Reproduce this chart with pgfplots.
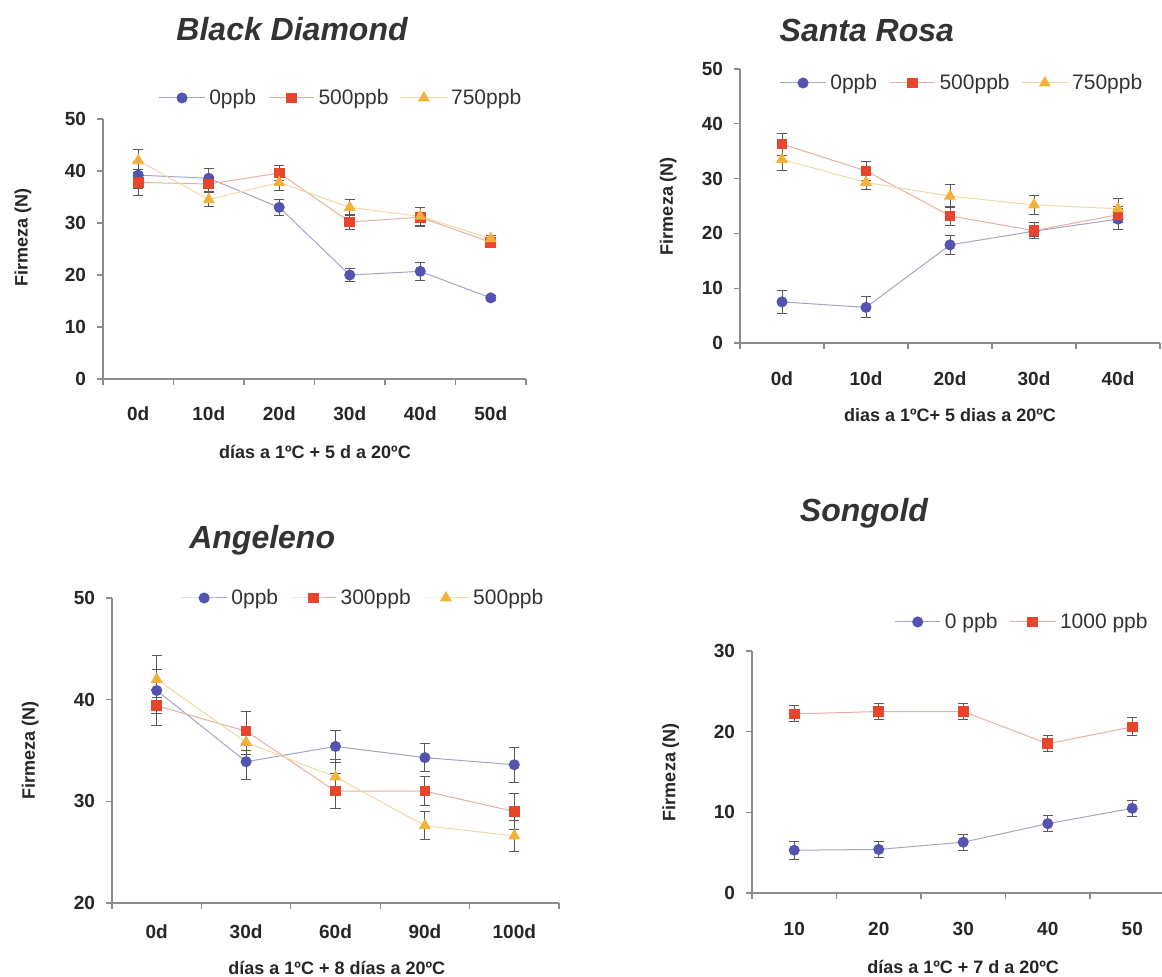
\documentclass[border=0pt]{standalone}
\usepackage{fontspec}
\setmainfont{Liberation Sans}
\usepackage{pgfplots}
\pgfplotsset{compat=1.18}

\definecolor{c0}{HTML}{5454B0}
\definecolor{c1}{HTML}{E8452C}
\definecolor{c2}{HTML}{F2B23A}
\definecolor{l0}{HTML}{A4A4C8}
\definecolor{l1}{HTML}{E6B0A2}
\definecolor{l2}{HTML}{EFD8A4}
\definecolor{axgray}{HTML}{8C8C8C}
\definecolor{txt}{HTML}{262626}

\pgfplotsset{
  panel/.style={
    scale only axis,
    axis lines=left,
    axis line style={draw=axgray, line width=0.6pt, -},
    tick align=outside,
    major tick length=3pt,
    tick style={draw=axgray, line width=0.6pt},
    xmin=0,
    xticklabels={},
    extra x tick style={tick style={draw=none}},
    xticklabel style={anchor=center, font=\bfseries\fontsize{9.5}{11}\selectfont, text=txt},
    yticklabel style={font=\bfseries\fontsize{9.5}{11}\selectfont, text=txt, xshift=-2pt,
      /pgf/number format/assume math mode=true},
    % the default title style shifts by 6pt; take that back
    title style={anchor=center, yshift=-6pt, font=\bfseries\itshape\fontsize{16}{19}\selectfont, text=black!80},
    ylabel={Firmeza (N)},
    ylabel style={anchor=center, font=\bfseries\fontsize{9}{11}\selectfont, text=txt},
    xlabel style={anchor=center, font=\bfseries\fontsize{9}{11}\selectfont, text=txt},
    legend columns=-1,
    legend style={draw=none, fill=none, anchor=center, font=\fontsize{10.5}{12}\selectfont,
      text=black!80, /tikz/every even column/.append style={column sep=4pt}},
    legend image code/.code={\draw[mark repeat=2,mark phase=2,#1]
      plot coordinates {(0cm,0cm) (0.4cm,0cm) (0.8cm,0cm)};},
    clip=false,
  },
  s0/.style={draw=l0, line width=0.5pt, mark=*, mark size=2.5pt,
    mark options={draw=c0, fill=c0},
    error bars/.cd, y dir=both, y explicit,
    error bar style={draw=black!65, line width=0.5pt},
    error mark options={rotate=90, draw=black!65, mark size=2.6pt, line width=0.5pt}},
  s1/.style={draw=l1, line width=0.5pt, mark=square*, mark size=2.4pt,
    mark options={draw=c1, fill=c1},
    error bars/.cd, y dir=both, y explicit,
    error bar style={draw=black!65, line width=0.5pt},
    error mark options={rotate=90, draw=black!65, mark size=2.6pt, line width=0.5pt}},
  s2/.style={draw=l2, line width=0.5pt, mark=triangle*, mark size=3pt,
    mark options={draw=c2, fill=c2},
    error bars/.cd, y dir=both, y explicit,
    error bar style={draw=black!65, line width=0.5pt},
    error mark options={rotate=90, draw=black!65, mark size=2.6pt, line width=0.5pt}},
}

\begin{document}
\begin{tikzpicture}
\useasboundingbox (0,0) rectangle (581pt,-488.5pt);

% Black Diamond
\begin{axis}[panel,
  at={(51.5pt,-189.5pt)}, anchor=south west,
  width=211.5pt, height=130pt,
  xmax=6, ymin=0, ymax=50,
  xtick={0,1,...,6}, ytick={0,10,...,50},
  extra x ticks={0.5,1.5,...,5.5},
  extra x tick labels={0d,10d,20d,30d,40d,50d},
  xticklabel style={yshift=-14.5pt},
  title={Black Diamond},
  title style={at={(axis description cs:0.447,1.346)}},
  xlabel={días a 1ºC + 5 d a 20ºC},
  xlabel style={at={(axis description cs:0.501,-0.281)}},
  ylabel style={at={(axis description cs:-0.189,0.546)}},
  legend style={at={(axis description cs:0.565,1.081)}},
]
\addplot[s0] coordinates {(0.5,39.2) +- (0,2.6) (1.5,38.6) +- (0,1.8) (2.5,33.0) +- (0,1.6)
  (3.5,20.0) +- (0,1.3) (4.5,20.7) +- (0,1.7) (5.5,15.6) +- (0,0.5)};
\addplot[s1] coordinates {(0.5,37.8) +- (0,2.5) (1.5,37.5) +- (0,1.5) (2.5,39.6) +- (0,1.4)
  (3.5,30.2) +- (0,1.5) (4.5,31.1) +- (0,1.8) (5.5,26.3) +- (0,0.5)};
\addplot[s2] coordinates {(0.5,42.0) +- (0,2.2) (1.5,34.5) +- (0,1.4) (2.5,37.8) +- (0,1.5)
  (3.5,33.0) +- (0,1.5) (4.5,31.3) +- (0,1.7) (5.5,27.0) +- (0,0.5)};
\legend{0ppb,500ppb,750ppb}
\end{axis}

% Santa Rosa
\begin{axis}[panel,
  at={(370pt,-171.5pt)}, anchor=south west,
  width=210pt, height=137pt,
  xmax=5, ymin=0, ymax=50,
  xtick={0,1,...,5}, ytick={0,10,...,50},
  extra x ticks={0.5,1.5,...,4.5},
  extra x tick labels={0d,10d,20d,30d,40d},
  xticklabel style={yshift=-15pt},
  title={Santa Rosa},
  title style={at={(axis description cs:0.302,1.142)}},
  xlabel={dias a 1ºC+ 5 dias a 20ºC},
  xlabel style={at={(axis description cs:0.5,-0.263)}},
  ylabel style={at={(axis description cs:-0.171,0.5)}},
  legend style={at={(axis description cs:0.531,0.949)}},
]
\addplot[s0] coordinates {(0.5,7.5) +- (0,2.1) (1.5,6.5) +- (0,1.9) (2.5,17.9) +- (0,1.8)
  (3.5,20.4) +- (0,1.0) (4.5,22.6) +- (0,1.9)};
\addplot[s1] coordinates {(0.5,36.3) +- (0,2.0) (1.5,31.4) +- (0,1.8) (2.5,23.2) +- (0,1.8)
  (3.5,20.5) +- (0,1.5) (4.5,23.4) +- (0,1.5)};
\addplot[s2] coordinates {(0.5,33.5) +- (0,2.0) (1.5,29.3) +- (0,1.2) (2.5,26.8) +- (0,2.1)
  (3.5,25.2) +- (0,1.8) (4.5,24.5) +- (0,1.8)};
\legend{0ppb,500ppb,750ppb}
\end{axis}

% Angeleno
\begin{axis}[panel,
  at={(56pt,-451.5pt)}, anchor=south west,
  width=223.5pt, height=152.5pt,
  xmax=5, ymin=20, ymax=50,
  xtick={0,1,...,5}, ytick={20,30,40,50},
  extra x ticks={0.5,1.5,...,4.5},
  extra x tick labels={0d,30d,60d,90d,100d},
  xticklabel style={yshift=-11.5pt},
  title={Angeleno},
  title style={at={(axis description cs:0.336,1.19)}},
  xlabel={días a 1ºC + 8 días a 20ºC},
  xlabel style={at={(axis description cs:0.503,-0.213)}},
  ylabel style={at={(axis description cs:-0.183,0.5)}},
  legend style={at={(axis description cs:0.564,1.0)}},
]
\addplot[s0] coordinates {(0.5,40.9) +- (0,3.4) (1.5,33.9) +- (0,1.8) (2.5,35.4) +- (0,1.6)
  (3.5,34.3) +- (0,1.4) (4.5,33.6) +- (0,1.7)};
\addplot[s1] coordinates {(0.5,39.4) +- (0,0.8) (1.5,36.9) +- (0,1.9) (2.5,31.0) +- (0,1.7)
  (3.5,31.0) +- (0,1.4) (4.5,29.0) +- (0,1.8)};
\addplot[s2] coordinates {(0.5,42.0) +- (0,1.0) (1.5,35.8) +- (0,1.2) (2.5,32.4) +- (0,1.7)
  (3.5,27.6) +- (0,1.4) (4.5,26.6) +- (0,1.5)};
\legend{0ppb,300ppb,500ppb}
\end{axis}

% Songold
\begin{axis}[panel,
  at={(376pt,-446.5pt)}, anchor=south west,
  width=205pt, height=121pt,
  xmax=4.852, ymin=0, ymax=30,
  xtick={0,1,...,4}, ytick={0,10,20,30},
  extra x ticks={0.5,1.5,...,4.5},
  extra x tick labels={10,20,30,40,50},
  xticklabel style={yshift=-15pt},
  title={Songold},
  title style={at={(axis description cs:0.273,1.57)}},
  xlabel={días a 1ºC + 7 d a 20ºC},
  xlabel style={at={(axis description cs:0.515,-0.306)}},
  ylabel style={at={(axis description cs:-0.198,0.5)}},
  legend style={at={(axis description cs:0.661,1.12)}},
]
\addplot[s0] coordinates {(0.5,5.3) +- (0,1.1) (1.5,5.4) +- (0,1.0) (2.5,6.3) +- (0,1.0)
  (3.5,8.6) +- (0,1.0) (4.5,10.5) +- (0,1.0)};
\addplot[s1] coordinates {(0.5,22.2) +- (0,1.0) (1.5,22.5) +- (0,1.0) (2.5,22.5) +- (0,1.0)
  (3.5,18.5) +- (0,1.0) (4.5,20.6) +- (0,1.1)};
\legend{0 ppb,1000 ppb}
\end{axis}
\end{tikzpicture}
\end{document}
